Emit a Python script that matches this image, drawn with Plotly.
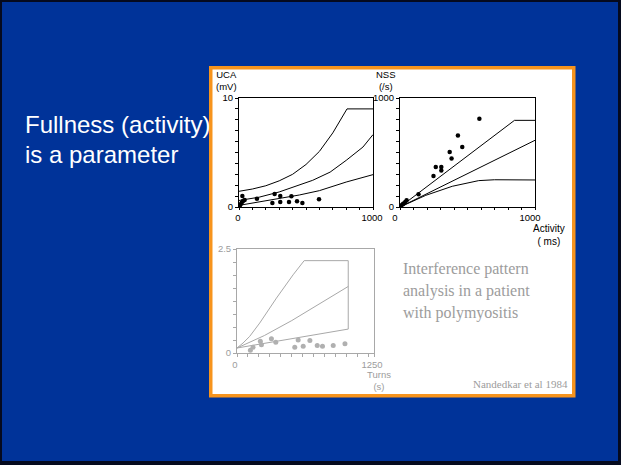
import plotly.graph_objects as go

W, H = 621, 465

# ---------------- data ----------------
# Panel 1: UCA (mV) vs Activity (ms)
uca_activity = [5, 12, 20, 25, 30, 42, 134, 249, 266, 308, 308, 373, 391, 433, 473, 597]
uca_mv = [0.1, 0.25, 0.4, 1.0, 0.55, 0.65, 0.76, 0.37, 1.19, 0.46, 1.0, 0.46, 0.98, 0.52, 0.37, 0.70]
uca_upper_x = [0, 100, 200, 300, 400, 500, 600, 700, 806, 1000]
uca_upper_y = [1.44, 1.65, 1.95, 2.4, 3.0, 3.9, 5.1, 6.8, 9.0, 9.0]
uca_mid_x = [0, 150, 300, 450, 550, 680, 800, 925, 1000]
uca_mid_y = [0.6, 0.9, 1.38, 2.0, 2.45, 3.2, 4.28, 5.5, 6.64]
uca_low_x = [0, 150, 300, 450, 600, 800, 1000]
uca_low_y = [0.15, 0.45, 0.76, 1.1, 1.5, 2.29, 2.97]

# Panel 2: NSS (/s) vs Activity (ms)
nss_activity = [10, 20, 27, 39, 49, 137, 248, 265, 306, 306, 368, 382, 429, 461, 588]
nss_per_s = [15, 25, 31, 46, 61, 116, 284, 367, 367, 336, 505, 446, 657, 550, 810]
nss_upper_x = [0, 848, 1000]
nss_upper_y = [0, 795, 795]
nss_mid_x = [0, 1000]
nss_mid_y = [0, 612]
nss_low_x = [0, 191, 387, 583, 700, 1000]
nss_low_y = [0, 107, 190, 242, 250, 248]

# Panel 3: amplitude vs Turns (s)
turns_x = [122, 146, 213, 223, 314, 354, 527, 558, 604, 665, 732, 780, 878, 985]
turns_y = [0.064, 0.136, 0.28, 0.2, 0.34, 0.256, 0.136, 0.31, 0.16, 0.30, 0.18, 0.16, 0.18, 0.22]
t_upper_x = [0, 55, 116, 207, 360, 512, 613, 1015, 1015]
t_upper_y = [0.12, 0.24, 0.40, 0.72, 1.32, 1.88, 2.22, 2.22, 0.575]
t_mid_x = [0, 250, 500, 750, 1015]
t_mid_y = [0.12, 0.42, 0.78, 1.17, 1.6]
t_low_x = [0, 250, 500, 750, 1015]
t_low_y = [0.12, 0.23, 0.34, 0.45, 0.575]

slide_lines = ["Fullness (activity)", "is a parameter"]
caption_lines = ["Interference pattern", "analysis in a patient", "with polymyositis"]
citation = "Nandedkar et al 1984"

# ---------------- helpers ----------------
def fx(px):
    return px / W

def fy(py):
    return 1 - py / H

SANS = "Liberation Sans, Arial, sans-serif"
SERIF = "Liberation Serif, Times New Roman, serif"
BLUE = "#003399"
ORANGE = "#F7941D"
GRAY = "#a8a8a8"
TXTGRAY = "#9c9c9c"

fig = go.Figure()

def line(x, y, xa, ya, color="black", width=1):
    fig.add_trace(go.Scatter(x=x, y=y, mode="lines", xaxis=xa, yaxis=ya,
                             line=dict(color=color, width=width), hoverinfo="skip",
                             showlegend=False))

def dots(x, y, xa, ya, color="black", size=4.5):
    fig.add_trace(go.Scatter(x=x, y=y, mode="markers", xaxis=xa, yaxis=ya,
                             marker=dict(color=color, size=size, line=dict(width=0)),
                             hoverinfo="skip", showlegend=False))

# panel 1
line(uca_upper_x, uca_upper_y, "x", "y")
line(uca_mid_x, uca_mid_y, "x", "y")
line(uca_low_x, uca_low_y, "x", "y")
dots(uca_activity, uca_mv, "x", "y")
# panel 2
line(nss_upper_x, nss_upper_y, "x2", "y2")
line(nss_mid_x, nss_mid_y, "x2", "y2")
line(nss_low_x, nss_low_y, "x2", "y2")
dots(nss_activity, nss_per_s, "x2", "y2")
# panel 3
line(t_upper_x, t_upper_y, "x3", "y3", color=GRAY)
line(t_mid_x, t_mid_y, "x3", "y3", color=GRAY)
line(t_low_x, t_low_y, "x3", "y3", color=GRAY)
dots(turns_x, turns_y, "x3", "y3", color="#b0b0b0", size=5)


def axis(domain, rng, vals, textmap, color="black", fontcolor="black", shift=0, ticklen=3):
    d = dict(domain=domain, range=rng, showgrid=False, zeroline=False,
             showline=True, mirror=True, linecolor=color, linewidth=1,
             ticks="outside", ticklen=ticklen, tickwidth=1, tickcolor=color,
             tickvals=vals, ticktext=[textmap.get(v, "") for v in vals],
             tickfont=dict(family=SANS, size=9.5, color=fontcolor), fixedrange=True,
             automargin=False)
    if shift:
        d["ticklabelshift"] = shift
    return d

x12vals = list(range(0, 1001, 100))
x3vals = list(range(0, 1251, 100)) + [1250]
y1vals = list(range(0, 11))
y2vals = list(range(0, 1001, 100))
y3vals = [round(i * 0.3125, 4) for i in range(0, 9)]

fig.update_layout(
    width=W, height=H,
    margin=dict(l=0, r=0, t=0, b=0, pad=0, autoexpand=False),
    paper_bgcolor="#050a1e", plot_bgcolor="rgba(0,0,0,0)",
    showlegend=False,
    xaxis=dict(axis([fx(239), fx(373)], [0, 1000], x12vals, {0: "0", 1000: "1000"}, shift=-1, ticklen=2), anchor="y"),
    yaxis=dict(axis([fy(207), fy(98)], [0, 10], y1vals, {0: "0", 10: "10"}), anchor="x"),
    xaxis2=dict(axis([fx(400), fx(535)], [0, 1000], x12vals, {0: "0", 1000: "1000"}, shift=-5, ticklen=2), anchor="y2"),
    yaxis2=dict(axis([fy(207), fy(98)], [0, 1000], y2vals, {0: "0", 1000: "1000"}), anchor="x2"),
    xaxis3=dict(axis([fx(237), fx(374)], [0, 1250], x3vals, {0: "0", 1250: "1250"}, color=GRAY, fontcolor=TXTGRAY, shift=-2), anchor="y3"),
    yaxis3=dict(axis([fy(353), fy(249)], [0, 2.5], y3vals, {0: "0", 2.5: "2.5"}, color=GRAY, fontcolor=TXTGRAY), anchor="x3"),
)

shapes = [
    dict(type="rect", xref="paper", yref="paper", x0=fx(2), x1=fx(618), y0=fy(461), y1=fy(2),
         fillcolor=BLUE, line=dict(width=0), layer="below"),
    dict(type="rect", xref="paper", yref="paper", x0=fx(209), x1=fx(575.5), y0=fy(397.5), y1=fy(66),
         fillcolor=ORANGE, line=dict(width=0), layer="below"),
    dict(type="rect", xref="paper", yref="paper", x0=fx(212.5), x1=fx(572), y0=fy(394), y1=fy(69.5),
         fillcolor="white", line=dict(width=0), layer="below"),
]
fig.update_layout(shapes=shapes)

ann = []
def text(t, x, y, size, color, family, xanchor="left", yanchor="middle"):
    ann.append(dict(text=t, x=fx(x), y=fy(y), xref="paper", yref="paper", showarrow=False,
                    xanchor=xanchor, yanchor=yanchor, borderpad=0,
                    font=dict(size=size, color=color, family=family)))

text(slide_lines[0], 24, 125, 24, "white", "Liberation Sans, Arial, sans-serif")
text(slide_lines[1], 24, 154, 24, "white", "Liberation Sans, Arial, sans-serif")
text("UCA<br>(mV)", 226, 80, 9.5, "black", SANS, "center")
text("NSS<br>(/s)", 386, 80, 9.5, "black", SANS, "center")
text("Activity<br>( ms)", 549, 221.5, 10, "black", SANS, "center", "top")
text("Turns<br>(s)", 379, 380, 9.5, TXTGRAY, SANS, "center")
for i, t in enumerate(caption_lines):
    text(t, 402, 269 + 22 * i, 16, TXTGRAY, SERIF)
text(citation, 472, 384, 11, TXTGRAY, SERIF)
fig.update_layout(annotations=ann)

fig.write_html("out.html")
